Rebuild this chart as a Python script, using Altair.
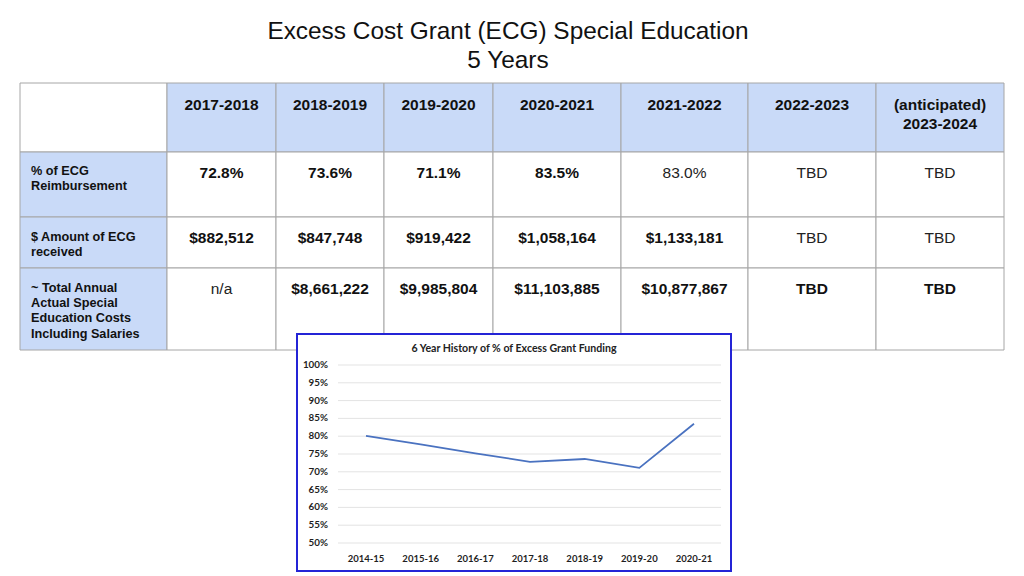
import altair as alt
import pandas as pd

# ---------------- data ----------------
page_title = "Excess Cost Grant (ECG) Special Education\n5 Years"
col_headers = ["2017-2018", "2018-2019", "2019-2020", "2020-2021", "2021-2022",
               "2022-2023", "(anticipated)\n2023-2024"]
row_labels = ["% of ECG\nReimbursement",
              "$ Amount of ECG\nreceived",
              "~ Total Annual\nActual Special\nEducation Costs\nIncluding Salaries"]
pct_row = ["72.8%", "73.6%", "71.1%", "83.5%", "83.0%", "TBD", "TBD"]
pct_bold = [True, True, True, True, False, False, False]
amount_row = ["$882,512", "$847,748", "$919,422", "$1,058,164", "$1,133,181", "TBD", "TBD"]
amount_bold = [True, True, True, True, True, False, False]
total_row = ["n/a", "$8,661,222", "$9,985,804", "$11,103,885", "$10,877,867", "TBD", "TBD"]
total_bold = [False, True, True, True, True, True, True]

history_title = "6 Year History of % of Excess Grant Funding"
history_years = ["2014-15", "2015-16", "2016-17", "2017-18", "2018-19", "2019-20", "2020-21"]
history_pct = [80.1, 77.7, 75.2, 72.8, 73.6, 71.1, 83.5]
history_ticks = [50, 55, 60, 65, 70, 75, 80, 85, 90, 95, 100]

# ---------------- layout (page pixels) ----------------
COL_EDGES = [20, 167, 276, 384, 493, 621, 748, 876, 1004]
ROW_EDGES = [83, 152, 217, 268, 350]
HEADER_BASE = 110
ROW_BASES = [178, 242.5, 293.5]
LABEL_BASES = [175, 240.7, 291.7]
LABEL_X = 31
BOX = (297, 731, 334, 571)
W, H = 1008, 568

HEADER_BLUE = "#C9DAF8"
GRID_GRAY = "#A6A6A6"
FONT = "Liberation Sans"
INNER_FONT = "Lato"

xs = alt.Scale(domain=[8, 8 + W], range=[0, W], zero=False, nice=False)
ys = alt.Scale(domain=[8, 8 + H], range=[0, H], zero=False, nice=False)

# cells
cells = []
for r in range(4):
    for c in range(8):
        blue = (r == 0 and c > 0) or (c == 0 and r > 0)
        cells.append(dict(x0=COL_EDGES[c], x1=COL_EDGES[c + 1],
                          y0=ROW_EDGES[r], y1=ROW_EDGES[r + 1],
                          fill=HEADER_BLUE if blue else "#FFFFFF"))
cells_df = pd.DataFrame(cells)

def centers():
    return [(COL_EDGES[i] + COL_EDGES[i + 1]) / 2 for i in range(1, 8)]

header_df = pd.DataFrame(dict(tx=centers(), ty=[HEADER_BASE] * 7, text=col_headers))

vals_bold, vals_reg = [], []
for rows, flags, base in [(pct_row, pct_bold, ROW_BASES[0]),
                          (amount_row, amount_bold, ROW_BASES[1]),
                          (total_row, total_bold, ROW_BASES[2])]:
    for cx, t, b in zip(centers(), rows, flags):
        (vals_bold if b else vals_reg).append(dict(tx=cx, ty=base, text=t))
vals_bold_df = pd.DataFrame(vals_bold)
vals_reg_df = pd.DataFrame(vals_reg)

labels_df = pd.DataFrame(dict(tx=[LABEL_X] * 3, ty=LABEL_BASES, text=row_labels))
title_df = pd.DataFrame(dict(tx=[508], ty=[39], text=[page_title]))
inner_title_df = pd.DataFrame(dict(tx=[514], ty=[351.5], text=[history_title]))
box_df = pd.DataFrame(dict(x0=[BOX[0]], x1=[BOX[1]], y0=[BOX[2]], y1=[BOX[3]]))


def pos_text(df, **kw):
    return alt.Chart(df).mark_text(**kw).encode(
        x=alt.X("tx:Q", scale=xs, axis=None),
        y=alt.Y("ty:Q", scale=ys, axis=None),
        text="text:N",
    )


cells_layer = alt.Chart(cells_df).mark_rect(stroke=GRID_GRAY, strokeWidth=1).encode(
    x=alt.X("x0:Q", scale=xs, axis=None), x2="x1:Q",
    y=alt.Y("y0:Q", scale=ys, axis=None), y2="y1:Q",
    fill=alt.Fill("fill:N", scale=None),
)

header_layer = pos_text(header_df, font=FONT, fontSize=15.5, fontWeight="bold",
                        align="center", baseline="alphabetic", lineBreak="\n",
                        lineHeight=19, color="#111111")
bold_layer = pos_text(vals_bold_df, font=FONT, fontSize=15.5, fontWeight="bold",
                      align="center", baseline="alphabetic", color="#111111")
reg_layer = pos_text(vals_reg_df, font=FONT, fontSize=15.5, fontWeight="normal",
                     align="center", baseline="alphabetic", color="#222222")
label_layer = pos_text(labels_df, font=FONT, fontSize=12.7, fontWeight="bold",
                       align="left", baseline="alphabetic", lineBreak="\n",
                       lineHeight=15.3, color="#111111")
title_layer = pos_text(title_df, font=FONT, fontSize=24.4, fontWeight="normal",
                       align="center", baseline="alphabetic", lineBreak="\n",
                       lineHeight=29, color="#111111")
box_layer = alt.Chart(box_df).mark_rect(fill="#FFFFFF", stroke="#2424D6", strokeWidth=2).encode(
    x=alt.X("x0:Q", scale=xs, axis=None), x2="x1:Q",
    y=alt.Y("y0:Q", scale=ys, axis=None), y2="y1:Q",
)
inner_title_layer = pos_text(inner_title_df, font=INNER_FONT, fontSize=10.6, fontWeight="bold",
                             align="center", baseline="alphabetic", color="#222222")

table_group = alt.layer(cells_layer, header_layer, bold_layer, reg_layer, label_layer,
                        title_layer, box_layer, inner_title_layer)

# ---------------- inner line chart ----------------
ix = alt.Scale(type="point", domain=history_years, range=[358, 686], padding=0)
iy = alt.Scale(domain=[50, 100], range=[535, 357], zero=False, nice=False)

hist_df = pd.DataFrame(dict(year=history_years, pct=history_pct))
ticks_df = pd.DataFrame(dict(pct=history_ticks, label=[f"{t}%" for t in history_ticks]))

grid_layer = alt.Chart(ticks_df).mark_rule(color="#E3E3E3", strokeWidth=1).encode(
    y=alt.Y("pct:Q", scale=iy, axis=None),
    x=alt.value(330), x2=alt.value(713),
)
ylab_layer = alt.Chart(ticks_df).mark_text(font=INNER_FONT, fontSize=9.8, fontWeight="bold",
                                           align="right", baseline="middle",
                                           color="#1E1E1E").encode(
    y=alt.Y("pct:Q", scale=iy, axis=None),
    x=alt.value(320),
    text="label:N",
)
xlab_layer = alt.Chart(hist_df).mark_text(font=INNER_FONT, fontSize=9.5, fontWeight="bold",
                                          align="center", baseline="alphabetic",
                                          color="#1E1E1E").encode(
    x=alt.X("year:N", scale=ix, axis=None),
    y=alt.value(554),
    text="year:N",
)
line_layer = alt.Chart(hist_df).mark_line(color="#4A72C0", strokeWidth=1.8).encode(
    x=alt.X("year:N", scale=ix, axis=None),
    y=alt.Y("pct:Q", scale=iy, axis=None),
)

inner_group = alt.layer(grid_layer, ylab_layer, xlab_layer, line_layer)

chart = alt.layer(table_group, inner_group).resolve_scale(
    x="independent", y="independent"
).properties(
    width=W, height=H, padding=0, autosize=alt.AutoSizeParams(type="none"),
    background="#FFFFFF",
).configure_view(stroke=None)

chart.save("out.html", embed_options={"renderer": "svg", "actions": False})
